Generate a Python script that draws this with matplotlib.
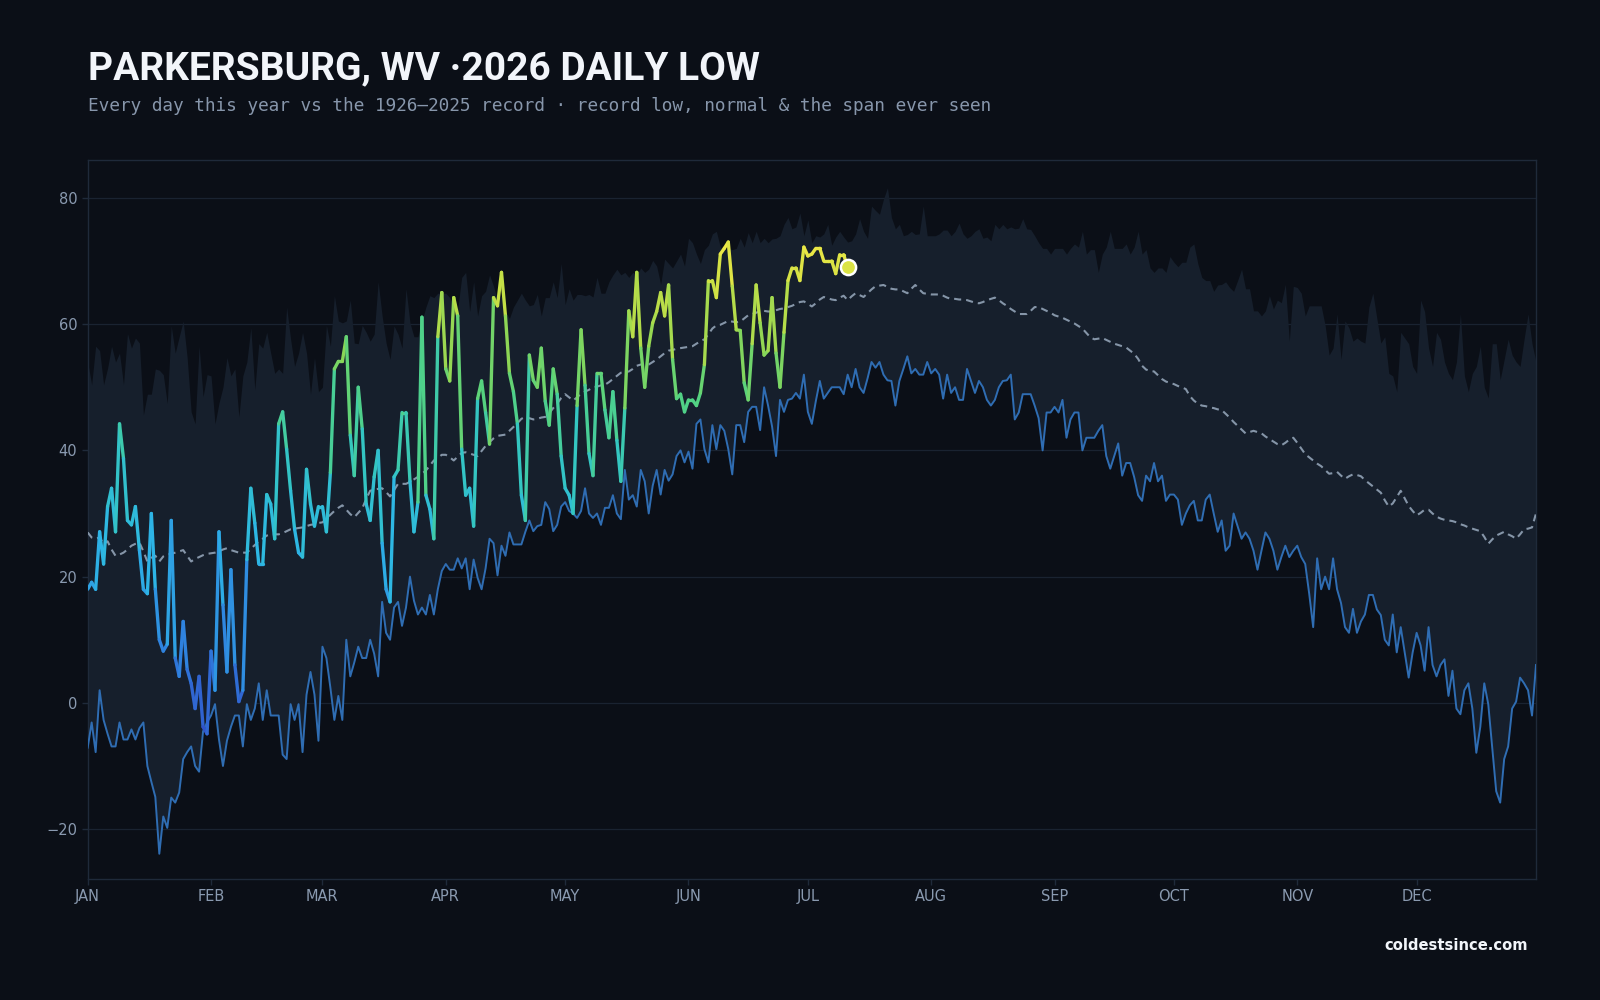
import numpy as np
import matplotlib
matplotlib.use("Agg")
import matplotlib.pyplot as plt
from matplotlib.collections import LineCollection
from matplotlib.colors import LinearSegmentedColormap, Normalize

# ---------------- data ----------------
month_labels = ["JAN", "FEB", "MAR", "APR", "MAY", "JUN", "JUL", "AUG", "SEP", "OCT", "NOV", "DEC"]
month_start_day = [0, 31, 59, 90, 120, 151, 181, 212, 243, 273, 304, 334]
y_ticks = [-20, 0, 20, 40, 60, 80]

# record low (°F) for each day of the year, 1926-2025
record_low = [
    -7.1, -3.1, -7.8, 2, -2.7, -4.9, -6.9, -6.9, -3.1, -5.8, -5.8, -4.2, -5.8, -4, -3.1, -10, -12.5, -14.9,
    -23.9, -18, -19.8, -15, -15.8, -14.2, -8.9, -7.8, -6.9, -10, -10.9, -4.5, -3.1,
    -2, -0.2, -5.8, -10, -6, -3.8, -2, -2, -6.9, -0.2, -2.7, -0.9, 3.1, -2.7, 2, -2, -2, -2, -8.2, -8.9,
    -0.2, -2.7, -0.2, -7.8, 1.3, 4.9, 1.3, -6, 8.9, 7.1,
    2.4, -2.7, 1.1, -2.7, 10, 4.2, 6.4, 8.9, 7.1, 7.1, 10, 7.8, 4.2, 16, 11.1, 10, 15.1, 16, 12.2, 15.1,
    20, 16.2, 14, 15.1, 14, 17.1, 14, 18, 20.9, 22, 21.1, 21.1, 22.9, 21.3, 22.9,
    18, 22.7, 19.8, 18, 21.3, 26, 25.3, 20.2, 24.9, 23.3, 27, 25.1, 25.1, 25.1, 27.1, 28.9, 27.2, 28, 28.2,
    31.8, 30.7, 27.2, 28.2, 31.1, 31.8, 30.4, 30, 29.3, 30.4, 34, 30,
    29.3, 30, 28.2, 30.9, 30.9, 32.9, 30, 29.1, 36.9, 32.2, 32.9, 31.1, 36.9, 35.1, 30, 34.4, 36.9, 33,
    36.9, 35.2, 36.2, 39.1, 40, 38.1, 39.8, 37.1, 44.2, 44.9, 40.2, 38.1, 44, 40.2,
    44, 43.1, 40.2, 36.2, 44, 44, 41.3, 46.1, 46.9, 46.9, 43.2, 50, 47.1, 43.8, 39.1, 48, 46.1, 48, 48.2,
    49.1, 48.2, 52, 46.1, 44.2, 47.8, 51, 48.2, 49.1, 50, 50, 50,
    48.9, 52, 50, 52.9, 50, 49.1, 51.4, 54, 53.1, 54, 52, 51.1, 51, 47.1, 51, 52.9, 54.9, 52.2, 52.9, 52,
    52, 54, 52.2, 52.9, 52, 48.2, 52, 49.1, 50, 48, 48, 52.9, 51, 49.1, 51, 50, 48, 47.1, 48, 50, 51, 51.1, 52,
    44.9, 46, 48.9, 48.9, 48.9, 47.1, 45.1, 40, 46, 46, 46.9, 46, 48, 42, 44.9, 46, 46, 40, 42, 42, 42,
    43.1, 44, 39.1, 37.1, 39.1, 41.1, 36, 38, 38, 35.8, 32.9, 32, 36, 35.1, 38, 35.1, 36, 32, 33, 33, 32.2, 28.2, 30,
    31.3, 32, 28.9, 28.9, 32.2, 33, 30, 27.1, 28.9, 24.1, 24.9, 30, 28, 26, 27, 26, 24.1, 21.1, 24.1, 27,
    26, 24.1, 21.1, 23.1, 24.9, 23.1, 24.1, 24.9, 23.1, 22, 17.3, 12, 22.9, 18, 20, 18, 22.9, 18, 15.8, 12,
    11.1, 14.9, 11.1, 12.9,
    14, 17.1, 17.1, 14.8, 13.9, 10, 9.1, 14, 8, 12, 8, 4, 8, 11.1, 9.1, 5.1, 12, 6, 4.2, 6, 6.9, 1.1, 5.1,
    -0.9, -1.8, 2, 3.1, -0.9, -7.9, -3.8, 3.1, -0.2, -7.1, -14, -15.8, -8.9, -6.9, -0.9, 0.2, 4, 3.1, 2, -2, 6,
]

# top of the span ever seen (warmest daily low) for each day
span_high = [
    54, 50.4, 56.5, 55.8, 50.4, 53, 56.5, 54, 55.4, 50.4, 58.5, 56.2, 57.8, 57, 45.6, 48.9, 48.9, 52.9,
    52.7, 52, 47.4, 59.7, 55.4, 58, 60.5, 54.7, 46.1, 44.2, 56.5, 48.5, 52, 51.8,
    44.2, 47.5, 50, 54.7, 51.8, 52.9, 45.3, 51.8, 54, 59.4, 49.6, 56.9, 56.2, 58.7, 55.4, 52.2, 52.9, 52.2,
    62.7, 57.6, 53.3, 55.4, 58.7, 55.4, 48.9, 54.7, 49.3, 50, 59.8, 56.5, 64.5, 60.5,
    60.2, 60.5, 63.8, 57, 56.9, 59.8, 58.7, 57.3, 58.4, 66.7, 61.3, 57, 54.4, 59.7, 58.4, 56.2, 65.6, 60.2,
    58, 58, 60.5, 62.7, 64.5, 64.2, 64.9, 64.9, 64.9, 64.2, 63, 62.4, 67.4, 68.2,
    62, 66.7, 61.3, 64.5, 65.2, 67.8, 66, 63.8, 64.5, 62, 60.9, 62.7, 63.8, 64.9, 63.8, 62.9, 63.1, 64.7,
    61.3, 64.2, 64.2, 66.7, 64.2, 69.6, 63.1, 65.6, 63.8, 64.7, 64.7, 64.5,
    64.7, 64.3, 67.4, 64.9, 64.9, 66.7, 67.8, 68.7, 67.8, 68.2, 67.4, 68.2, 67.8, 68.9, 68.2, 68.7, 70.1,
    69.2, 66.3, 70.3, 69.6, 68.9, 70, 71.1, 69.2, 73.6, 72.9, 71.1, 69.6, 71.8, 72.5, 74.3,
    74.7, 72.2, 71.8, 72, 71.8, 72, 73.6, 72.2, 74.5, 72.9, 74.7, 72.9, 73.6, 72.9, 73.5, 73.6, 74, 75.8,
    76.9, 75.1, 75.4, 77.6, 74, 76.5, 72.9, 74, 73.8, 74.3, 75.8, 72.5, 73.8,
    74.7, 73.8, 73, 73.2, 74.3, 76.7, 74.7, 73.6, 78.7, 78, 77.4, 79.8, 81.6, 76.9, 75.1, 75.8, 74, 74.2,
    74.7, 74.2, 74.3, 78.7, 74, 74, 74, 74.3, 74.9, 74.9, 74, 74.7, 76, 74.3, 73.6, 74, 74.7, 75.1, 73.6,
    73.8, 73.2, 75.8, 75.1, 75.8, 75.1, 75.4,
    75.1, 75.2, 76.7, 75.1, 75, 74, 72.9, 72, 72, 71.1, 72, 72, 72, 71.1, 72, 72.7, 72.2, 74.7, 71.1, 71.8,
    71.8, 68.2, 71.1, 72.2, 74.7, 72, 72, 72, 72.7, 71.1, 72.2, 74.7, 71.1, 71.8, 68.9, 68.2, 68.9, 68.9,
    68.2, 70.7, 69.8, 69.1, 69.8, 69.8,
    72.2, 72.7, 69.6, 67.4, 66.9, 66.9, 65.2, 66.2, 66.3, 66.7, 65.8, 65.2, 66.9, 68.7, 65.6, 65.6, 62.1,
    62.1, 61.3, 62.1, 64.5, 62.4, 63.8, 63.4, 66.3, 57.3, 66, 65.8, 64.9, 61.3, 62.9, 62.9, 62.9, 62.9,
    59.8, 55.1, 56.2, 61.6, 54.4, 60.5, 59.4, 57.3, 57.8, 57.3,
    57, 62.7, 64.9, 60.9, 57, 58, 52.2, 51.8, 49.3, 58.7, 57.8, 56.9, 53.3, 52.2, 63.8, 62, 56.2, 53.3,
    58.7, 57.6, 54, 52.2, 51.2, 54, 61.6, 51.8, 49.3, 52.2, 53.3, 56.5, 50, 48.3, 56.9, 56.9, 51.2, 54.4,
    57.6, 55.1, 54, 53.3, 57.6, 61.6, 56.9, 54,
]

# normal daily low
normal_low = [
    27.0, 26.2, 26.0, 26.2, 25.2, 25.6, 24.3, 23.3, 23.5, 23.8, 24.3, 24.9, 25.2, 25.4, 24.0, 22.4, 23.0,
    23.3, 22.4, 23.2, 23.5, 23.6, 23.8, 24.0, 24.2, 23.3, 22.4, 22.8, 23.1, 23.4, 23.6,
    23.7, 23.8, 24.0, 24.3, 24.5, 24.2, 24.0, 23.8, 23.8, 23.8, 24.4, 25.0, 25.6, 26.0, 26.5, 26.7, 26.7,
    26.7, 26.9, 27.2, 27.5, 27.6, 27.7, 27.8, 28.0, 28.2, 28.3, 28.5,
    28.6, 29.2, 29.8, 30.4, 30.9, 31.3, 30.6, 29.9, 29.4, 30.1, 30.8, 32.3, 33.6, 33.8, 33.9, 34.0, 33.4,
    32.7, 33.7, 34.7, 34.7, 34.7, 35.0, 35.4, 35.8, 36.3, 36.8, 37.6, 38.4, 38.8, 39.3,
    39.3, 38.9, 38.4, 39.0, 39.6, 39.7, 39.5, 39.3, 39.1, 39.9, 40.7, 41.3, 41.9, 42.3, 42.4, 42.5, 43.1,
    43.7, 44.3, 45.0, 45.3, 45.1, 44.9, 45.0, 45.2, 45.3, 45.9, 46.7, 47.4, 48.3,
    48.9, 48.4, 47.9, 48.4, 49.0, 49.3, 49.6, 50.0, 50.1, 50.3, 50.4, 50.8, 51.3, 51.8, 52.3, 52.4, 52.5,
    52.9, 53.4, 53.6, 53.5, 53.6, 54.0, 54.4, 54.9, 55.4, 55.8, 55.9, 56.1, 56.2, 56.3,
    56.4, 56.5, 56.9, 57.3, 57.6, 58.4, 59.3, 59.8, 59.9, 60.2, 60.5, 60.4, 60.3, 60.4, 60.9, 61.4, 61.6,
    61.8, 62.1, 62.1, 62.0, 62.0, 62.2, 62.4, 62.5, 62.7, 62.9, 63.2, 63.5, 63.6,
    63.2, 62.8, 63.3, 63.9, 64.3, 64.1, 63.9, 63.8, 64.2, 64.5, 63.8, 64.4, 64.9, 64.6, 64.3, 64.9, 65.5,
    66.0, 66.1, 66.2, 65.9, 65.6, 65.5, 65.5, 65.2, 64.9, 65.6, 66.2, 65.5, 64.9, 64.8,
    64.7, 64.7, 64.7, 64.5, 64.2, 64.0, 64.0, 63.9, 63.9, 63.8, 63.6, 63.4, 63.3, 63.5, 63.8, 64.0, 64.2,
    63.8, 63.3, 62.9, 62.4, 62.0, 61.6, 61.6, 61.6, 62.1, 62.7, 62.7, 62.4, 62.1, 61.8,
    61.4, 61.2, 61.0, 60.7, 60.4, 60.1, 59.7, 59.3, 58.6, 57.9, 57.6, 57.7, 57.8, 57.5, 57.2, 56.9, 56.7,
    56.5, 56.3, 55.8, 55.3, 54.5, 53.4, 52.8, 52.6, 52.5, 51.9, 51.3, 50.9, 50.7,
    50.5, 50.2, 50.0, 49.7, 48.6, 47.9, 47.4, 47.1, 47.0, 46.8, 46.7, 46.5, 46.4, 45.8, 45.2, 44.5, 43.9,
    43.3, 42.7, 42.9, 43.1, 42.9, 42.7, 42.2, 41.8, 41.4, 41.0, 40.8, 41.2, 41.7, 42.0,
    41.2, 40.3, 39.4, 38.9, 38.4, 37.9, 37.5, 36.9, 36.3, 36.4, 36.6, 36.0, 35.5, 35.9, 36.2, 36.1, 35.9,
    35.3, 34.8, 34.3, 33.8, 33.3, 32.1, 31.1, 31.6, 32.6, 33.6, 32.4, 31.2, 30.4,
    29.7, 30.1, 30.6, 30.6, 30.0, 29.5, 29.2, 29.0, 28.9, 28.8, 28.6, 28.3, 28.1, 27.8, 27.6, 27.4, 27.2,
    26.3, 25.2, 25.9, 26.5, 26.8, 27.1, 26.7, 26.4, 26.0, 26.7, 27.5, 27.6, 27.8, 30.0,
]

# 2026 observed daily low, Jan 1 - Jul 11
low_2026 = [
    18, 19.1, 18, 27.1, 22, 31.1, 34, 27.1, 44.2, 38.7, 28.9, 28.2, 31.1, 24.2, 18, 17.3, 30, 18, 10, 8.2,
    9.3, 28.9, 7.1, 4.2, 12.9, 5.3, 3.1, -0.9, 4.2, -3.8, -4.9,
    8.2, 2, 27.1, 15.5, 4.9, 21.1, 6, 0.2, 2, 22.7, 34, 28.5, 22, 22, 33, 31.5, 26, 44.2, 46.1, 40.2, 33.6,
    27.5, 23.8, 23.1, 37, 31.5, 28, 31.1, 31.1, 27.1,
    36.5, 52.9, 54.1, 54.1, 58, 42.4, 36, 50, 43.4, 31.5, 28.9, 35.8, 40, 25.3, 18, 16, 35.8, 36.9, 46, 46,
    35.1, 27.1, 31.8, 61.1, 32.9, 30.7, 26, 58, 65, 52.9, 51, 64.2, 61.3, 40.2, 32.9,
    34, 28, 48.2, 51, 46, 41, 64.2, 62.9, 68.2, 61.3, 52.2, 49.3, 44.2, 32.9, 28.9, 55.1, 51.1, 50, 56.2,
    47.8, 44, 52.9, 48.9, 39.1, 34, 32.9, 30, 47.1, 59.1, 50.3, 39.5,
    36, 52.2, 52.2, 46.4, 42, 49.3, 41.6, 35.1, 46.7, 62.1, 58, 68.2, 56.2, 50, 56.5, 60.2, 62, 65, 61.3,
    66.2, 54.4, 48.2, 48.9, 46.1, 48, 48, 47.1, 49.1, 53.6, 66.9, 66.9, 64.2,
    71.1, 72, 73, 66, 59.1, 59, 50.7, 48, 56.9, 66.2, 60.2, 55.1, 55.8, 64.2, 55.4, 50, 58.7, 66.9, 68.9,
    68.9, 66.9, 72.2, 70.8, 71.1, 72, 72, 70, 70, 70, 68, 71, 71, 69,
]

# ---------------- style ----------------
BG = "#0b0f17"
BAND = "#161f2c"
GRID = "#1a2331"
SPINE = "#1f2a3a"
TICK_TXT = "#8a9ab0"

fig = plt.figure(figsize=(16, 10), dpi=100, facecolor=BG)
ax = fig.add_axes([0.0548, 0.121, 0.9052, 0.719])
ax.set_facecolor(BG)

days = np.arange(len(record_low))
ax.fill_between(days, record_low, span_high, color=BAND, lw=0, zorder=1)
ax.plot(days, record_low, color="#2f6db3", lw=1.4, zorder=3, solid_joinstyle="round")
ax.plot(days, normal_low, color="#8595a8", lw=1.5, ls=(0, (3.4, 2.4)), zorder=3)

d26 = np.arange(len(low_2026))
v26 = np.array(low_2026, dtype=float)
pts = np.column_stack([d26, v26]).reshape(-1, 1, 2)
segs = np.concatenate([pts[:-1], pts[1:]], axis=1)
cmap = LinearSegmentedColormap.from_list(
    "lows",
    [(0.0, "#3050c8"), (0.19, "#2f86e0"), (0.38, "#2db6e6"), (0.56, "#34c6c0"),
     (0.68, "#52d282"), (0.79, "#8cd655"), (0.9, "#c6df45"), (1.0, "#f0e845")],
)
norm = Normalize(-5, 73)
lc = LineCollection(segs, cmap=cmap, norm=norm, linewidths=2.4, capstyle="round",
                    joinstyle="round", zorder=4)
lc.set_array((v26[:-1] + v26[1:]) / 2)
ax.add_collection(lc)
ax.scatter([d26[-1]], [v26[-1]], s=120, color=cmap(norm(v26[-1])), edgecolors="white",
           linewidths=1.8, zorder=5)

ax.set_xlim(0, len(record_low) - 1)
ax.set_ylim(-27.9, 86)
ax.set_xticks(month_start_day)
ax.set_xticklabels(month_labels)
ax.set_yticks(y_ticks)
ax.grid(axis="y", color=GRID, lw=0.9)
ax.set_axisbelow(True)
ax.tick_params(colors=SPINE, labelcolor=TICK_TXT, labelsize=10.5, length=4, width=1)
for lab in ax.get_xticklabels() + ax.get_yticklabels():
    lab.set_family("DejaVu Sans")
for s in ax.spines.values():
    s.set_color(SPINE)
    s.set_linewidth(1)

fig.text(0.0548, 0.921, "PARKERSBURG, WV \u00b72026 DAILY LOW", fontsize=28, fontweight="bold",
         color="#f2f5fa", family=["Roboto", "DejaVu Sans"], va="baseline")
fig.text(0.0548, 0.889,
         "Every day this year vs the 1926\u20132025 record \u00b7 record low, normal & the span ever seen",
         fontsize=12.78, color="#8796ab", family="DejaVu Sans Mono", va="baseline")
fig.text(0.955, 0.05, "coldestsince.com", fontsize=10.6, fontweight="bold", color="#f2f5fa",
         family="DejaVu Sans", ha="right", va="baseline")

fig.savefig("out.png", dpi=100, facecolor=BG)
